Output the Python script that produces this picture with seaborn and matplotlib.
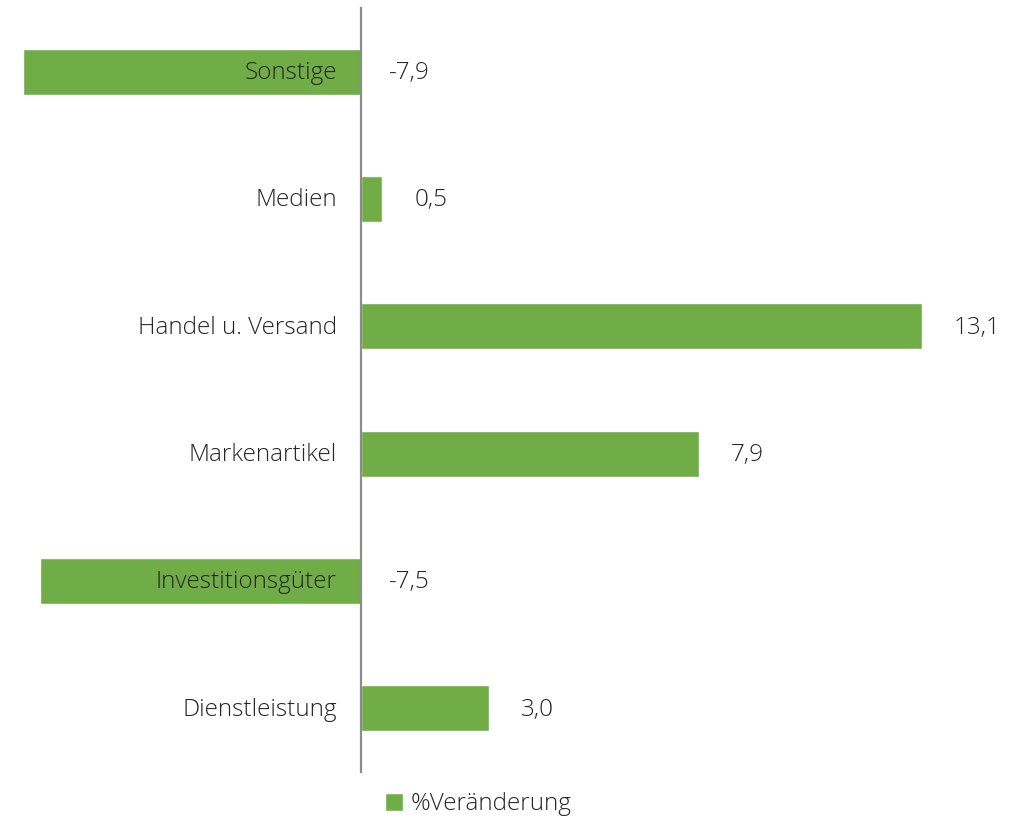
import pandas as pd
import matplotlib.pyplot as plt
import seaborn as sns
from matplotlib.patches import Patch

# ── Data ──────────────────────────────────────────────
categories = ["Sonstige", "Medien", "Handel u. Versand",
              "Markenartikel", "Investitionsgüter", "Dienstleistung"]
values = [-7.9, 0.5, 13.1, 7.9, -7.5, 3.0]
series_name = "%Veränderung"

df = pd.DataFrame({"Kategorie": categories, "Wert": values})

# ── Style ─────────────────────────────────────────────
sns.set_theme(style="white")
plt.rcParams["font.family"] = ["Open Sans", "DejaVu Sans"]
green = "#70AD47"
txt = "#262626"
fs = 17.5

fig = plt.figure(figsize=(10.26, 8.19), dpi=100)
ax = fig.add_axes([0, 47 / 819, 1, 764 / 819])

sns.barplot(data=df, x="Wert", y="Kategorie", orient="h",
            color=green, width=0.36, saturation=1, ax=ax)

ax.set_xlim(-8.43, 15.54)
ax.set_ylim(5.5, -0.5)
for s in ["top", "right", "bottom"]:
    ax.spines[s].set_visible(False)
ax.spines["left"].set_position(("data", 0))
ax.spines["left"].set_color("#8c8c8c")
ax.spines["left"].set_linewidth(1.6)
ax.set_xticks([])
ax.set_yticks([])
ax.set_xlabel("")
ax.set_ylabel("")

# category labels left of the axis, value labels right of bar / axis
for i, (cat, val) in enumerate(zip(categories, values)):
    ax.text(-0.56, i + 0.01, cat, ha="right", va="center", fontsize=fs,
            color=txt, fontweight="light")
    xpos = val + 0.75 if val > 0 else 0.65
    ax.text(xpos, i + 0.01, f"{val:.1f}".replace(".", ","), ha="left",
            va="center", fontsize=fs, color=txt, fontweight="light")

fig.legend(handles=[Patch(facecolor=green, label=series_name)],
           loc="center", bbox_to_anchor=(0.466, 0.018), frameon=False,
           handlelength=0.75, handleheight=0.75,
           handletextpad=0.3, labelcolor=txt,
           prop={"family": ["Open Sans", "DejaVu Sans"], "weight": "light",
                 "size": fs})

fig.savefig("out.png", dpi=100)
plt.close()
